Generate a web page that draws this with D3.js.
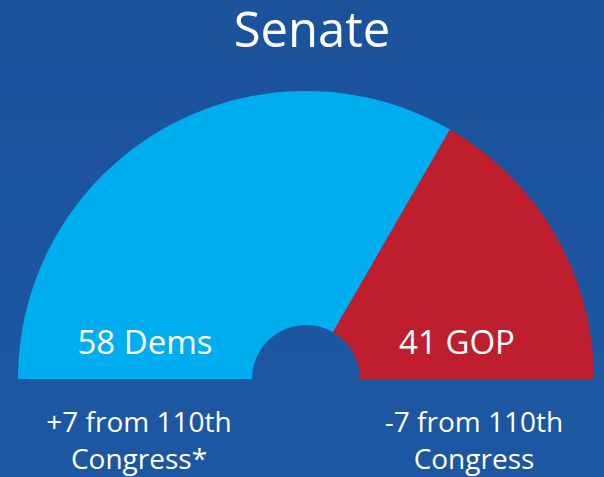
<!DOCTYPE html>
<html>
<head>
<meta charset="utf-8">
<script src="https://cdn.jsdelivr.net/npm/d3@7"></script>
<style>
  html, body { margin: 0; padding: 0; background: #1c55a0; }
  svg { display: block; font-family: 'Open Sans', 'Noto Sans', sans-serif; }
</style>
</head>
<body>
<div id="container"></div>
<script>
// Senate seats, 111th Congress
const parties = ['Dems', 'GOP'];
const seats = [58, 41];
// share of the half circle each party takes, as drawn in the picture
const drawnShare = [2, 1];
const changeLine1 = ['+7 from 110th', '-7 from 110th'];
const changeLine2 = ['Congress*', 'Congress'];
const partyColors = ['#00aeef', '#be1e2d'];

const width = 604;
const height = 477;
const cx = 306;
const cy = 379;
const outerR = 288;
const innerR = 54;

const svg = d3.select('#container')
  .append('svg')
  .attr('width', width)
  .attr('height', height);

// background
const defs = svg.append('defs');
const grad = defs.append('linearGradient')
  .attr('id', 'bg')
  .attr('x1', 0).attr('y1', 0).attr('x2', 0).attr('y2', 1);
grad.append('stop').attr('offset', '0%').attr('stop-color', '#1b529c');
grad.append('stop').attr('offset', '100%').attr('stop-color', '#1d57a2');

svg.append('rect')
  .attr('width', width)
  .attr('height', height)
  .attr('fill', 'url(#bg)');

// title
svg.append('text')
  .attr('x', 312)
  .attr('y', 47)
  .attr('text-anchor', 'middle')
  .attr('fill', '#fff')
  .style('font-size', '49px')
  .text('Senate');

// half donut
const pie = d3.pie()
  .sort(null)
  .startAngle(-Math.PI / 2)
  .endAngle(Math.PI / 2);

const arc = d3.arc()
  .innerRadius(innerR)
  .outerRadius(outerR);

const slices = pie(drawnShare);

const g = svg.append('g')
  .attr('transform', `translate(${cx}, ${cy})`);

g.selectAll('path')
  .data(slices)
  .enter()
  .append('path')
  .attr('d', arc)
  .attr('fill', (d, i) => partyColors[i]);

// seat labels inside the arc
const labelX = [-161, 151];
g.selectAll('.seat-label')
  .data(parties)
  .enter()
  .append('text')
  .attr('class', 'seat-label')
  .attr('x', (d, i) => labelX[i])
  .attr('y', -25)
  .attr('text-anchor', 'middle')
  .attr('fill', '#fff')
  .style('font-size', '33px')
  .text((d, i) => `${seats[i]} ${d}`);

// change notes below
const noteX = [139, 474];
const notes = svg.selectAll('.note')
  .data(parties)
  .enter()
  .append('text')
  .attr('class', 'note')
  .attr('text-anchor', 'middle')
  .attr('fill', '#fff')
  .style('font-size', '28px');

notes.append('tspan')
  .attr('x', (d, i) => noteX[i])
  .attr('y', 432)
  .text((d, i) => changeLine1[i]);

notes.append('tspan')
  .attr('x', (d, i) => noteX[i])
  .attr('y', 469)
  .text((d, i) => changeLine2[i]);
</script>
</body>
</html>
